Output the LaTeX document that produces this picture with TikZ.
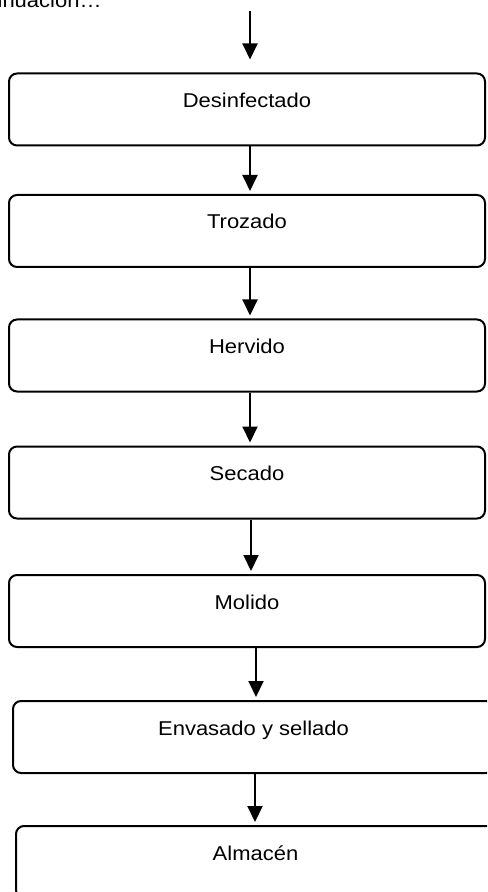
\documentclass[tikz,border=0pt]{standalone}
\usepackage{fontspec}
\setmainfont{Liberation Sans}[FakeStretch=1.1]
\usetikzlibrary{arrows.meta,positioning}

\begin{document}
\begin{tikzpicture}[x=0.5pt,y=-0.5pt,
	caja/.style={draw,line width=1pt,rounded corners=4pt,inner sep=0pt,
		minimum width=238pt,text height=17pt,text depth=19pt,
		font=\fontsize{10}{12}\selectfont},
	flecha/.style={line width=1pt,-{Triangle[width=7.5pt,length=8pt]},shorten >=1.5pt}]
	\useasboundingbox (0,0) rectangle (487,892);
	\clip (0,0) rectangle (487,892);
	\node[anchor=base east,inner sep=0pt,font=\fontsize{10}{12}\selectfont] (intro) at (102,8) {A continuación…};
	\coordinate (inicio) at (250,11);
	\node[caja] (desinfectado) at (247,109.5) {Desinfectado};
	\node[caja] (trozado) at (247,231) {Trozado};
	\node[caja] (hervido) at (247,355.5) {Hervido};
	\node[caja] (secado) at (247,482.5) {Secado};
	\node[caja] (molido) at (247,611) {Molido};
	\node[caja,minimum width=240.5pt] (envasado) at (253.5,737) {Envasado y sellado};
	\node[caja,minimum width=239.5pt] (almacen) at (255.5,862) {Almacén};
	
	\draw[flecha,shorten >=6.5pt] (inicio) -- ([xshift=1.5pt]desinfectado.north);
	\draw[flecha] ([xshift=1.5pt]desinfectado.south) -- ([xshift=1.5pt]trozado.north);
	\draw[flecha] ([xshift=1.5pt]trozado.south) -- ([xshift=1.5pt]hervido.north);
	\draw[flecha] ([xshift=1.5pt]hervido.south) -- ([xshift=1.5pt]secado.north);
	\draw[flecha] ([xshift=2pt]secado.south) -- ([xshift=2pt]molido.south |- molido.north);
	\draw[flecha] ([xshift=4.5pt]molido.south) -- ([xshift=4.5pt]molido.south |- envasado.north);
	\draw[flecha] ([xshift=0.75pt]envasado.south) -- ([xshift=0.75pt]envasado.south |- almacen.north);
\end{tikzpicture}
\end{document}
